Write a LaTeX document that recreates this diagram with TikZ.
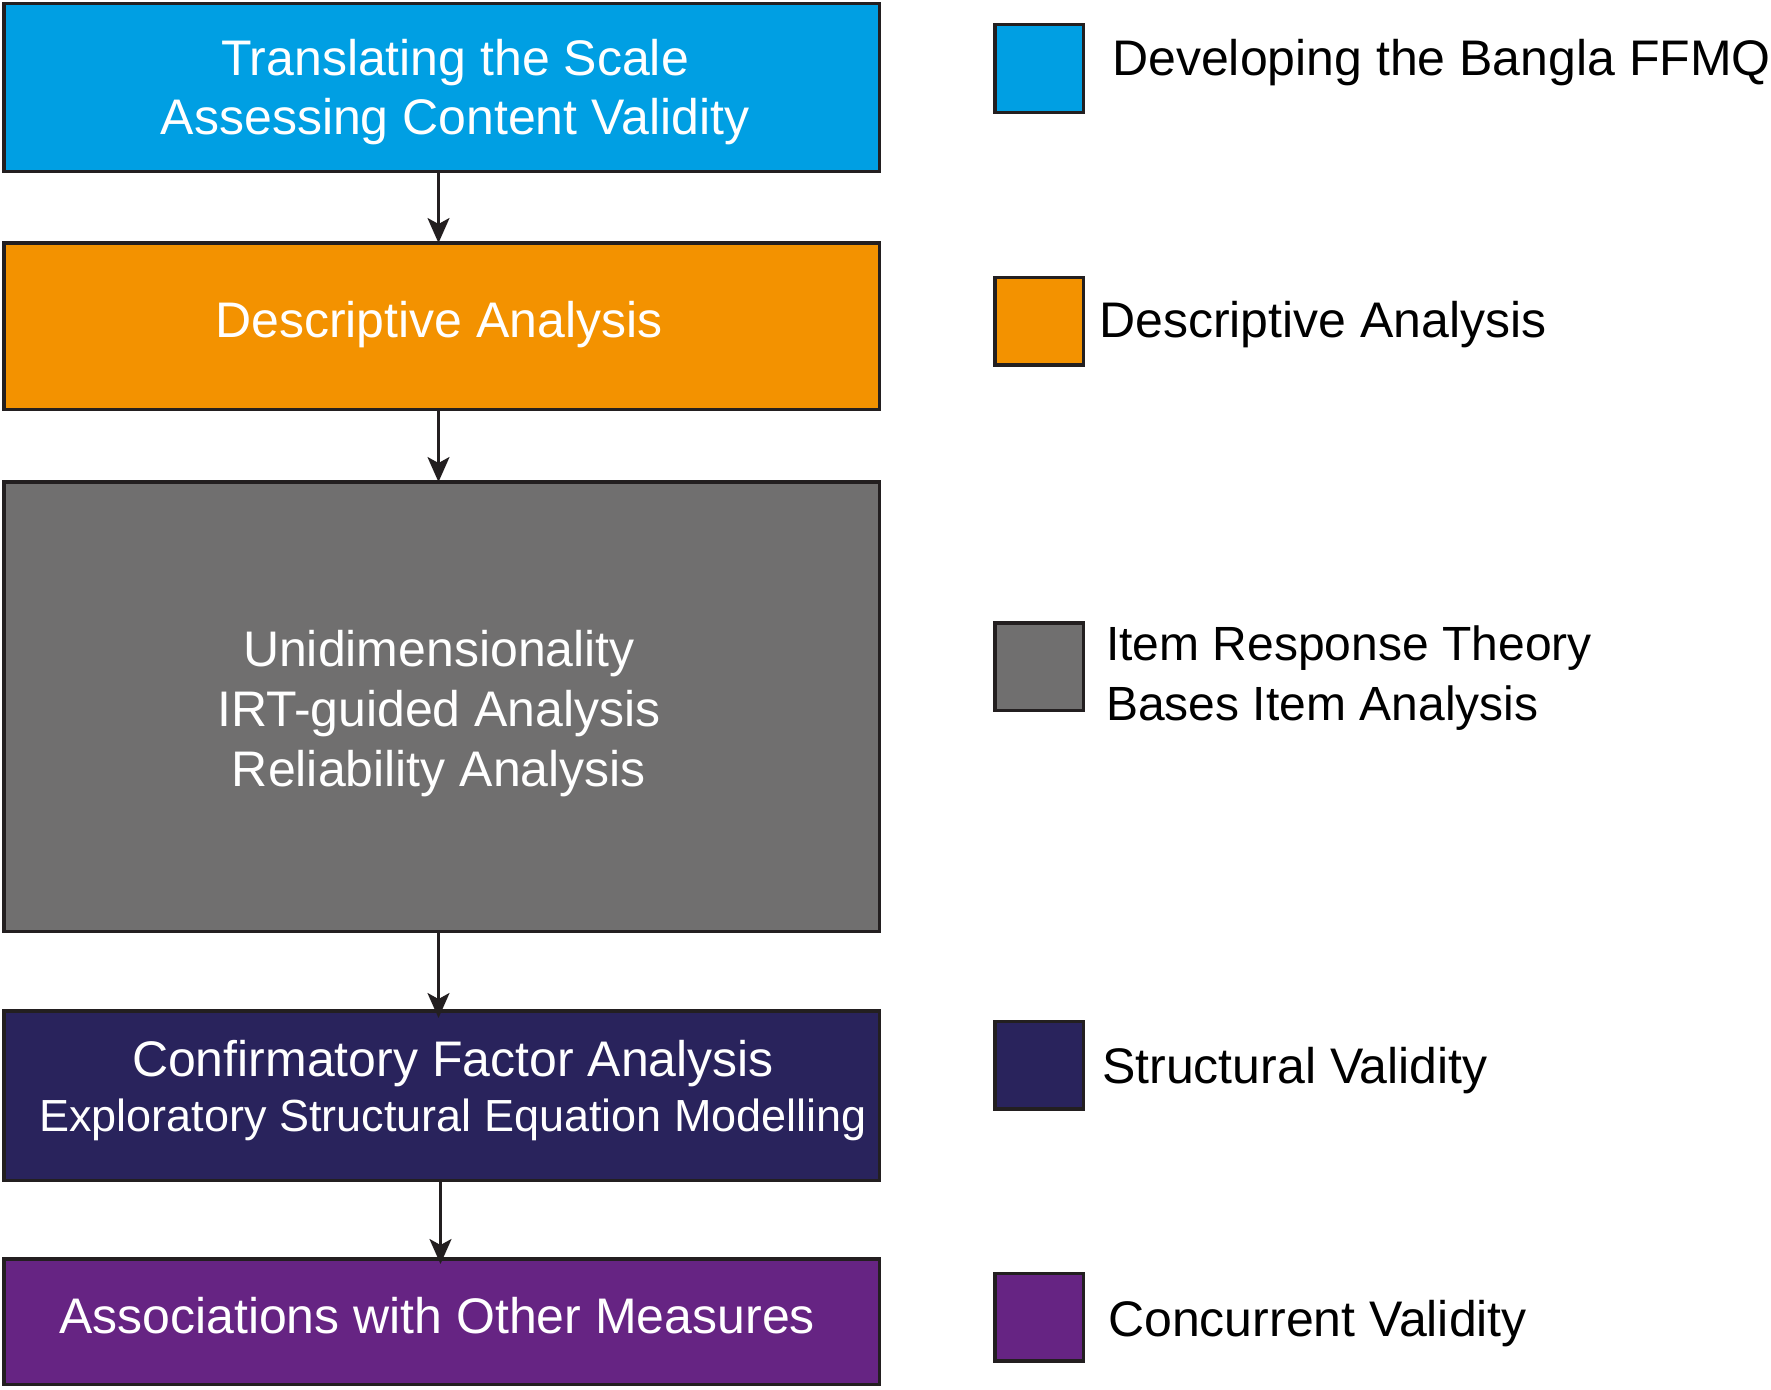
\documentclass[tikz,border=0pt]{standalone}
\usepackage{fontspec}
\setmainfont{Liberation Sans}
\usetikzlibrary{arrows.meta}
\definecolor{stepblue}{HTML}{009FE3}
\definecolor{steporange}{HTML}{F39200}
\definecolor{stepgray}{HTML}{706F6F}
\definecolor{stepnavy}{HTML}{29235C}
\definecolor{steppurple}{HTML}{662483}
\definecolor{edgeink}{HTML}{231F20}
\begin{document}
\begin{tikzpicture}[x=1pt,y=-1pt,
  stagebox/.style={draw=edgeink, line width=3.5pt, rectangle, inner sep=0pt,
    minimum width=875.5pt},
  keybox/.style={draw=edgeink, line width=3.5pt, rectangle, inner sep=0pt,
    minimum width=88.5pt, minimum height=87.5pt},
  stagetext/.style={text=white, inner sep=0pt, align=center,
    font=\fontsize{50}{59}\selectfont},
  keytext/.style={text=black, inner sep=0pt, align=left, anchor=west,
    font=\fontsize{50}{60}\selectfont},
  flow/.style={draw=edgeink, line width=2.5pt,
    -{Stealth[length=25pt, width=22pt, inset=6pt]}}]
\useasboundingbox (0,0) rectangle (1771,1389);

% stage boxes
\node[stagebox, fill=stepblue,   minimum height=167.5pt] (b1) at (441.5,87.5) {};
\node[stagebox, fill=steporange, minimum height=166.5pt] (b2) at (441.5,326) {};
\node[stagebox, fill=stepgray,   minimum height=449.5pt] (b3) at (441.5,706.5) {};
\node[stagebox, fill=stepnavy,   minimum height=169.5pt] (b4) at (441.5,1095.5) {};
\node[stagebox, fill=steppurple, minimum height=125.5pt] (b5) at (441.5,1321.5) {};

% stage labels
\node[stagetext] (t1) at (455,92.5) {Translating the Scale\\Assessing Content Validity};
\node[stagetext] (t2) at (439,325) {Descriptive Analysis};
\node[stagetext, font=\fontsize{50}{60}\selectfont] (t3) at (439,714)
  {Unidimensionality\\IRT-guided Analysis\\Reliability Analysis};
\node[stagetext, font=\fontsize{50}{55}\selectfont] (t4) at (453,1091)
  {Confirmatory Factor Analysis\\{\fontsize{45}{55}\selectfont Exploratory Structural Equation Modelling}};
\node[stagetext] (t5) at (437,1315.5) {Associations with Other Measures};

% connectors
\draw[flow] ([xshift=-3pt]b1.south) -- ([xshift=-3pt,yshift=-2pt]b2.north);
\draw[flow] ([xshift=-3pt]b2.south) -- ([xshift=-3pt,yshift=-2pt]b3.north);
\draw[flow] ([xshift=-3pt]b3.south) -- ([xshift=-3pt,yshift=-9pt]b4.north);
\draw[flow] ([xshift=-1pt]b4.south) -- ([xshift=-1pt,yshift=-7pt]b5.north);

% key
\node[keybox, fill=stepblue]   (k1) at (1039,68.5) {};
\node[keybox, fill=steporange] (k2) at (1039,321) {};
\node[keybox, fill=stepgray]   (k3) at (1039,666.5) {};
\node[keybox, fill=stepnavy]   (k4) at (1039,1065) {};
\node[keybox, fill=steppurple] (k5) at (1039,1317) {};

\node[keytext] (l1) at (1112,63) {Developing the Bangla FFMQ};
\node[keytext] (l2) at (1099,325) {Descriptive Analysis};
\node[keytext, font=\fontsize{48}{60}\selectfont] (l3) at (1106,678)
  {Item Response Theory\\Bases Item Analysis};
\node[keytext] (l4) at (1102,1071) {Structural Validity};
\node[keytext] (l5) at (1108,1324) {Concurrent Validity};
\end{tikzpicture}
\end{document}
